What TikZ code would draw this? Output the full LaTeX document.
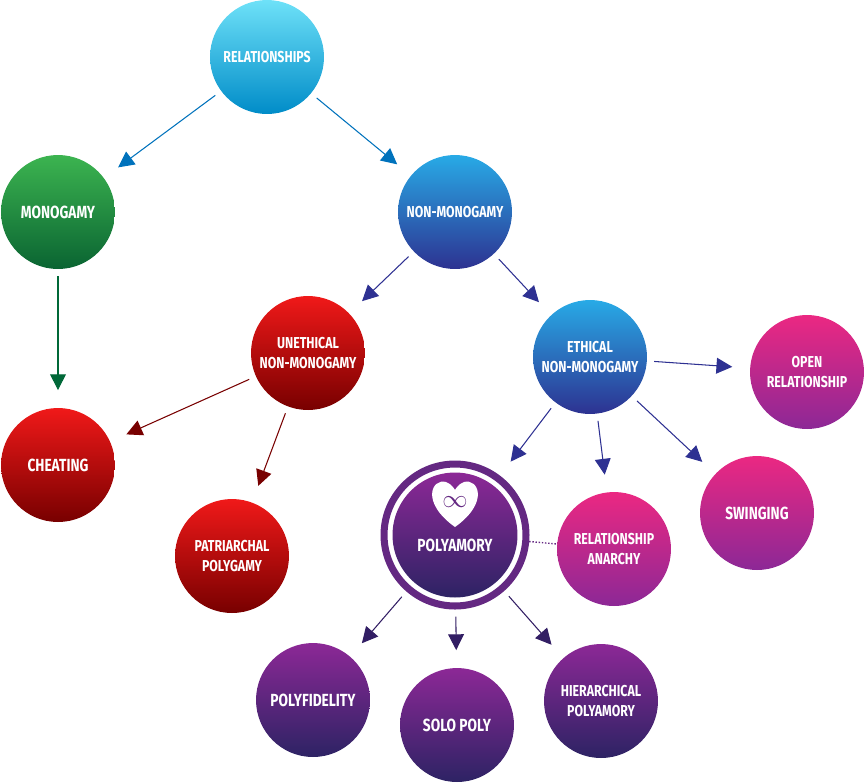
\documentclass[tikz,border=0pt]{standalone}
\usepackage{fontspec}
\newfontfamily\lblfont{Fira Sans}[FakeStretch=0.78]
\usetikzlibrary{arrows.meta, positioning}
\definecolor{CyanTop}{RGB}{110, 225, 248}
\definecolor{CyanBot}{RGB}{0, 140, 200}
\definecolor{GreenTop}{RGB}{60, 180, 80}
\definecolor{GreenBot}{RGB}{10, 100, 50}
\definecolor{BlueTop}{RGB}{40, 170, 230}
\definecolor{BlueBot}{RGB}{45, 50, 145}
\definecolor{RedTop}{RGB}{240, 25, 25}
\definecolor{RedBot}{RGB}{120, 0, 0}
\definecolor{PinkTop}{RGB}{235, 40, 130}
\definecolor{PinkBot}{RGB}{140, 40, 150}
\definecolor{PurpTop}{RGB}{140, 40, 150}
\definecolor{PurpBot}{RGB}{45, 35, 100}
\definecolor{ArrBlue}{RGB}{0, 114, 188}
\definecolor{ArrGreen}{RGB}{0, 104, 56}
\definecolor{ArrNavy}{RGB}{46, 49, 146}
\definecolor{ArrRed}{RGB}{120, 0, 0}
\definecolor{ArrPurp}{RGB}{50, 30, 100}
\definecolor{RingPurp}{RGB}{100, 40, 130}

\begin{document}
\begin{tikzpicture}[x=0.02cm, y=-0.02cm]
        \tikzstyle{bubble} = [circle, minimum size=2.28cm, inner sep=0pt, text=white, align=center, font=\lblfont\bfseries\small]
        \tikzstyle{cyanb} = [bubble, top color=CyanTop, bottom color=CyanBot]
        \tikzstyle{greenb} = [bubble, top color=GreenTop, bottom color=GreenBot]
        \tikzstyle{blueb} = [bubble, top color=BlueTop, bottom color=BlueBot]
        \tikzstyle{redb} = [bubble, top color=RedTop, bottom color=RedBot]
        \tikzstyle{pinkb} = [bubble, top color=PinkTop, bottom color=PinkBot]
        \tikzstyle{purpb} = [bubble, top color=PurpTop, bottom color=PurpBot]
        \tikzstyle{arrow} = [-{Triangle[length=9pt, width=9pt]}, semithick, shorten >=10pt, shorten <=4pt]

        \useasboundingbox (0,0) rectangle (865,782);

        % Nodes
        \node (rel) [cyanb] at (267,57) {RELATIONSHIPS};
        \node (mono) [greenb] at (58,212) {\normalsize MONOGAMY};
        \node (nonmono) [blueb] at (455,212) {NON-MONOGAMY};
        \node (uneth) [redb] at (308,353) {UNETHICAL\\NON-MONOGAMY};
        \node (eth) [blueb] at (590,357) {ETHICAL\\NON-MONOGAMY};
        \node (open) [pinkb] at (807,372) {OPEN\\RELATIONSHIP};
        \node (cheat) [redb] at (58,465) {\normalsize CHEATING};
        \node (patri) [redb] at (232,556) {PATRIARCHAL\\POLYGAMY};
        \node (ring) [circle, minimum size=2.84cm, draw=RingPurp, line width=4pt, fill=white] at (455,535) {};
        \node (poly) [purpb, minimum size=2.5cm] at (455,535) {\\[8pt]\normalsize POLYAMORY};
        \node (anarchy) [pinkb] at (614,549) {RELATIONSHIP\\ANARCHY};
        \node (swing) [pinkb] at (757,513) {\normalsize SWINGING};
        \node (fidel) [purpb] at (313,700) {\normalsize POLYFIDELITY};
        \node (solo) [purpb] at (457,725) {\normalsize SOLO POLY};
        \node (hier) [purpb] at (601,701) {HIERARCHICAL\\POLYAMORY};

        % Heart icon
        \fill[white] (455,527) .. controls (420,502) and (432,478) .. (446,482)
            .. controls (452,484) and (455,490) .. (455,490)
            .. controls (455,490) and (458,484) .. (464,482)
            .. controls (478,478) and (490,502) .. (455,527) -- cycle;
        \node[text=RingPurp, font=\Large\bfseries] at (455,502) {$\infty$};

        % Arrows
        \draw [arrow, ArrBlue] (rel) -- (mono);
        \draw [arrow, ArrBlue] (rel) -- (nonmono);
        \draw [arrow, ArrGreen] (mono) -- (cheat);
        \draw [arrow, ArrNavy] (nonmono) -- (uneth);
        \draw [arrow, ArrNavy] (nonmono) -- (eth);
        \draw [arrow, ArrRed] (uneth) -- (cheat);
        \draw [arrow, ArrRed] (uneth) -- (patri);
        \draw [arrow, ArrNavy] (eth) -- (open);
        \draw [arrow, ArrNavy] (eth) -- (ring);
        \draw [arrow, ArrNavy] (eth) -- (anarchy);
        \draw [arrow, ArrNavy] (eth) -- (swing);
        \draw [arrow, ArrPurp] (ring) -- (fidel);
        \draw [arrow, ArrPurp] (ring) -- (solo);
        \draw [arrow, ArrPurp] (ring) -- (hier);

        % Dotted link
        \draw [RingPurp, densely dotted, thick] (ring) -- (anarchy);
    \end{tikzpicture}
\end{document}
